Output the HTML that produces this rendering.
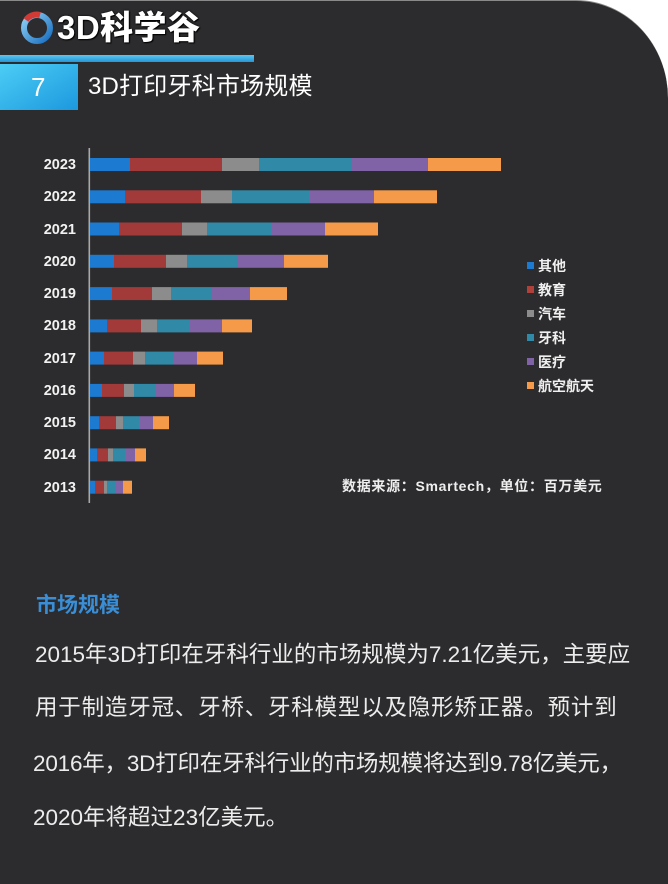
<!DOCTYPE html>
<html><head><meta charset="utf-8">
<style>
html,body{margin:0;padding:0;background:#fff;}
body{width:668px;height:884px;position:relative;overflow:hidden;font-family:"Liberation Sans","Noto Sans CJK SC",sans-serif;}
#bg{position:absolute;left:0;top:0;width:668px;height:884px;background:#2c2c2e;border-top-right-radius:92px 98px;border-top:1px solid #8a8a8a;box-sizing:border-box;}
.t{position:absolute;white-space:nowrap;color:#fff;}
.yr{position:absolute;left:20px;width:56px;text-align:right;font-weight:bold;font-size:14.5px;line-height:13px;color:#f2f2f2;}
.lg{position:absolute;left:538px;font-size:14px;line-height:16px;color:#f0f0f0;font-weight:bold;white-space:nowrap;}
.sq{position:absolute;left:527px;width:7px;height:7px;}
.body{position:absolute;left:35px;font-size:22.5px;line-height:30px;color:#ececec;white-space:nowrap;}
</style></head>
<body>
<div id="bg"></div>

<svg style="position:absolute;left:0;top:0" width="668" height="884">
  <defs>
    <linearGradient id="ring" x1="0" y1="0" x2="1" y2="1">
      <stop offset="0" stop-color="#8fd0f5"/>
      <stop offset="1" stop-color="#1a6fc0"/>
    </linearGradient>
    <linearGradient id="bar" x1="0" y1="0" x2="0" y2="1">
      <stop offset="0" stop-color="#5cc4f0"/>
      <stop offset="1" stop-color="#2497d6"/>
    </linearGradient>
    <linearGradient id="box" x1="0" y1="0" x2="1" y2="1">
      <stop offset="0" stop-color="#4ccdf5"/>
      <stop offset="1" stop-color="#1c98de"/>
    </linearGradient>
  </defs>
  <circle cx="37" cy="28" r="13" fill="none" stroke="url(#ring)" stroke-width="6"/>
  <path d="M26 20 A13 13 0 0 1 40 15" fill="none" stroke="#d23a35" stroke-width="6"/>
  <rect x="0" y="55" width="254" height="7" fill="url(#bar)"/>
  <rect x="0" y="64" width="78" height="46" fill="url(#box)"/>
  <rect x="88.5" y="148" width="1.6" height="355" fill="#a8a8a8"/>
</svg>

<div class="t" style="left:57px;top:8px;font-size:33px;line-height:40px;font-weight:900;letter-spacing:0.5px;text-shadow:0 0 2px #000,1px 1px 1px #000;">3D科学谷</div>
<div class="t" style="left:31px;top:72px;font-size:26px;line-height:30px;">7</div>
<div class="t" style="left:88px;top:72px;font-size:24px;line-height:30px;letter-spacing:0.2px;">3D打印牙科市场规模</div>

<svg style="position:absolute;left:0;top:0" width="668" height="884">
<g>
<rect x="90" y="158" width="40" height="13" fill="#1c7ad0"/><rect x="130" y="158" width="92" height="13" fill="#a23a3a"/><rect x="222" y="158" width="37" height="13" fill="#8c8c8c"/><rect x="259" y="158" width="93" height="13" fill="#3189a8"/><rect x="352" y="158" width="76" height="13" fill="#8062a6"/><rect x="428" y="158" width="73" height="13" fill="#f59a48"/>
<rect x="90" y="190.3" width="35" height="13" fill="#1c7ad0"/><rect x="125" y="190.3" width="76" height="13" fill="#a23a3a"/><rect x="201" y="190.3" width="31" height="13" fill="#8c8c8c"/><rect x="232" y="190.3" width="77" height="13" fill="#3189a8"/><rect x="309" y="190.3" width="65" height="13" fill="#8062a6"/><rect x="374" y="190.3" width="63" height="13" fill="#f59a48"/>
<rect x="90" y="222.5" width="29" height="13" fill="#1c7ad0"/><rect x="119" y="222.5" width="63" height="13" fill="#a23a3a"/><rect x="182" y="222.5" width="25" height="13" fill="#8c8c8c"/><rect x="207" y="222.5" width="64" height="13" fill="#3189a8"/><rect x="271" y="222.5" width="54" height="13" fill="#8062a6"/><rect x="325" y="222.5" width="53" height="13" fill="#f59a48"/>
<rect x="90" y="254.8" width="24" height="13" fill="#1c7ad0"/><rect x="114" y="254.8" width="52" height="13" fill="#a23a3a"/><rect x="166" y="254.8" width="21" height="13" fill="#8c8c8c"/><rect x="187" y="254.8" width="51" height="13" fill="#3189a8"/><rect x="238" y="254.8" width="46" height="13" fill="#8062a6"/><rect x="284" y="254.8" width="44" height="13" fill="#f59a48"/>
<rect x="90" y="287.1" width="22" height="13" fill="#1c7ad0"/><rect x="112" y="287.1" width="40" height="13" fill="#a23a3a"/><rect x="152" y="287.1" width="19" height="13" fill="#8c8c8c"/><rect x="171" y="287.1" width="41" height="13" fill="#3189a8"/><rect x="212" y="287.1" width="38" height="13" fill="#8062a6"/><rect x="250" y="287.1" width="37" height="13" fill="#f59a48"/>
<rect x="90" y="319.4" width="17" height="13" fill="#1c7ad0"/><rect x="107" y="319.4" width="34" height="13" fill="#a23a3a"/><rect x="141" y="319.4" width="16" height="13" fill="#8c8c8c"/><rect x="157" y="319.4" width="33" height="13" fill="#3189a8"/><rect x="190" y="319.4" width="32" height="13" fill="#8062a6"/><rect x="222" y="319.4" width="30" height="13" fill="#f59a48"/>
<rect x="90" y="351.6" width="14" height="13" fill="#1c7ad0"/><rect x="104" y="351.6" width="29" height="13" fill="#a23a3a"/><rect x="133" y="351.6" width="12" height="13" fill="#8c8c8c"/><rect x="145" y="351.6" width="28" height="13" fill="#3189a8"/><rect x="173" y="351.6" width="24" height="13" fill="#8062a6"/><rect x="197" y="351.6" width="26" height="13" fill="#f59a48"/>
<rect x="90" y="383.9" width="12" height="13" fill="#1c7ad0"/><rect x="102" y="383.9" width="22" height="13" fill="#a23a3a"/><rect x="124" y="383.9" width="10" height="13" fill="#8c8c8c"/><rect x="134" y="383.9" width="22" height="13" fill="#3189a8"/><rect x="156" y="383.9" width="18" height="13" fill="#8062a6"/><rect x="174" y="383.9" width="21" height="13" fill="#f59a48"/>
<rect x="90" y="416.2" width="9" height="13" fill="#1c7ad0"/><rect x="99" y="416.2" width="17" height="13" fill="#a23a3a"/><rect x="116" y="416.2" width="7" height="13" fill="#8c8c8c"/><rect x="123" y="416.2" width="16" height="13" fill="#3189a8"/><rect x="139" y="416.2" width="14" height="13" fill="#8062a6"/><rect x="153" y="416.2" width="16" height="13" fill="#f59a48"/>
<rect x="90" y="448.4" width="7" height="13" fill="#1c7ad0"/><rect x="97" y="448.4" width="11" height="13" fill="#a23a3a"/><rect x="108" y="448.4" width="5" height="13" fill="#8c8c8c"/><rect x="113" y="448.4" width="12" height="13" fill="#3189a8"/><rect x="125" y="448.4" width="10" height="13" fill="#8062a6"/><rect x="135" y="448.4" width="11" height="13" fill="#f59a48"/>
<rect x="90" y="480.7" width="5" height="13" fill="#1c7ad0"/><rect x="95" y="480.7" width="9" height="13" fill="#a23a3a"/><rect x="104" y="480.7" width="3" height="13" fill="#8c8c8c"/><rect x="107" y="480.7" width="9" height="13" fill="#3189a8"/><rect x="116" y="480.7" width="7" height="13" fill="#8062a6"/><rect x="123" y="480.7" width="9" height="13" fill="#f59a48"/>
</g>
</svg>

<div class="yr" style="top:159px">2023</div>
<div class="yr" style="top:191.3px">2022</div>
<div class="yr" style="top:223.5px">2021</div>
<div class="yr" style="top:255.8px">2020</div>
<div class="yr" style="top:288.1px">2019</div>
<div class="yr" style="top:320.4px">2018</div>
<div class="yr" style="top:352.6px">2017</div>
<div class="yr" style="top:384.9px">2016</div>
<div class="yr" style="top:417.2px">2015</div>
<div class="yr" style="top:449.4px">2014</div>
<div class="yr" style="top:481.7px">2013</div>

<div class="sq" style="top:262px;background:#1c7ad0"></div><div class="lg" style="top:258px">其他</div>
<div class="sq" style="top:286px;background:#b0403a"></div><div class="lg" style="top:282px">教育</div>
<div class="sq" style="top:310px;background:#8c8c8c"></div><div class="lg" style="top:306px">汽车</div>
<div class="sq" style="top:334px;background:#3189a8"></div><div class="lg" style="top:330px">牙科</div>
<div class="sq" style="top:358px;background:#8062a6"></div><div class="lg" style="top:354px">医疗</div>
<div class="sq" style="top:382px;background:#f59a48"></div><div class="lg" style="top:378px">航空航天</div>

<div class="t" style="left:342px;top:478px;font-size:14px;line-height:16px;font-weight:bold;letter-spacing:0.7px;color:#eee;">数据来源：Smartech，单位：百万美元</div>

<div class="t" style="left:36px;top:593px;font-size:21px;line-height:26px;color:#3a8ed6;font-weight:bold;">市场规模</div>
<div class="body" style="top:640px;letter-spacing:0px;">2015年3D打印在牙科行业的市场规模为7.21亿美元，主要应</div>
<div class="body" style="top:693px;letter-spacing:0.8px;">用于制造牙冠、牙桥、牙科模型以及隐形矫正器。预计到</div>
<div class="body" style="top:749px;letter-spacing:-0.2px;left:33px;">2016年，3D打印在牙科行业的市场规模将达到9.78亿美元，</div>
<div class="body" style="top:803px;left:33px;">2020年将超过23亿美元。</div>
</body></html>
